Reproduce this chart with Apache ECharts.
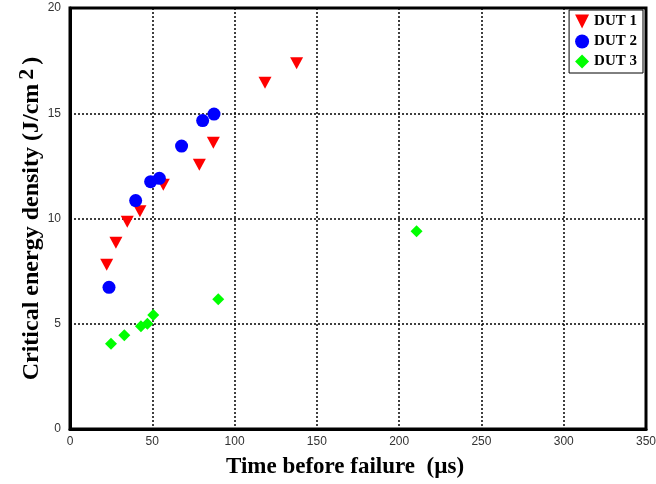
<!DOCTYPE html>
<html><head><meta charset="utf-8">
<script src="https://cdn.jsdelivr.net/npm/echarts@6/dist/echarts.min.js"></script>
<style>html,body{margin:0;padding:0;background:#fff}#c{width:656px;height:484px}</style>
</head><body><div id="c"></div>
<script>
const dut1 = [[22.3,7.8],[27.9,8.85],[34.8,9.85],[42.5,10.35],[56.7,11.6],[78.6,12.55],[87.1,13.6],[118.5,16.45],[137.7,17.37]];
const dut2 = [[23.7,6.73],[39.9,10.85],[49.0,11.75],[54.3,11.91],[67.8,13.44],[80.6,14.65],[87.5,14.96]];
const dut3 = [[24.9,4.05],[33.0,4.45],[43.1,4.88],[47.0,5.0],[50.6,5.42],[90.1,6.16],[210.6,9.4]];
const xTicks = [0,50,100,150,200,250,300,350];
const yTicks = [0,5,10,15,20];

const chart = echarts.init(document.getElementById('c'));
const serif = '"Liberation Serif","DejaVu Serif",serif';
const tickFont = '"Liberation Sans Narrow","Liberation Sans",sans-serif';
const downTri = 'path://M0,0L10,0L5,10Z';
chart.setOption({
  animation:false,
  grid:{left:70,right:10,top:8,bottom:55,containLabel:false,outerBoundsMode:'none',show:true,borderColor:'#000',borderWidth:3,backgroundColor:'transparent'},
  legend:{
    orient:'vertical', right:13, top:10,
    backgroundColor:'#fff', borderColor:'#000', borderWidth:1,
    padding:[4,6,4,6], itemGap:5, itemWidth:14, itemHeight:14,
    textStyle:{fontFamily:serif,fontWeight:'bold',fontSize:15,color:'#000'},
    data:[{name:'DUT 1',icon:downTri},{name:'DUT 2',icon:'circle'},{name:'DUT 3',icon:'diamond'}]
  },
  xAxis:{
    type:'value', min:0, max:350, interval:50,
    axisLine:{show:true,onZero:false,lineStyle:{color:'#000',width:3}},
    axisTick:{show:false},
    splitLine:{show:true,lineStyle:{color:'#000',type:[2,2],width:1.5}},
    axisLabel:{color:'#333',fontFamily:tickFont,fontSize:12,margin:7},
    name:'Time before failure  (µs)', nameLocation:'middle', nameGap:27, nameMoveOverlap:false,
    nameTextStyle:{fontFamily:serif,fontWeight:'bold',fontSize:23,color:'#000',padding:[0,26,0,0]}
  },
  yAxis:{
    type:'value', min:0, max:20, interval:5,
    axisLine:{show:true,onZero:false,lineStyle:{color:'#000',width:3}},
    axisTick:{show:false},
    splitLine:{show:true,lineStyle:{color:'#000',type:[2,2],width:1.5}},
    axisLabel:{color:'#333',fontFamily:tickFont,fontSize:12,margin:9},
    name:'{a|Critical energy density (J/cm}{s|2}{a|)}', nameLocation:'middle', nameGap:26, nameMoveOverlap:false,
    nameTextStyle:{
      rich:{
        a:{fontFamily:serif,fontWeight:'bold',fontSize:24,color:'#000',verticalAlign:'bottom',lineHeight:28},
        s:{fontFamily:serif,fontWeight:'bold',fontSize:22,color:'#000',verticalAlign:'top',lineHeight:28,padding:[0,4,18,4]}
      }
    }
  },
  series:[
    {name:'DUT 1',type:'scatter',data:dut1,symbol:downTri,symbolSize:[13,12],itemStyle:{color:'#ff0000',opacity:1}},
    {name:'DUT 2',type:'scatter',data:dut2,symbol:'circle',symbolSize:13,itemStyle:{color:'#0000ff',opacity:1}},
    {name:'DUT 3',type:'scatter',data:dut3,symbol:'diamond',symbolSize:[12,12],itemStyle:{color:'#00ff00',opacity:1}}
  ]
});
</script></body></html>
